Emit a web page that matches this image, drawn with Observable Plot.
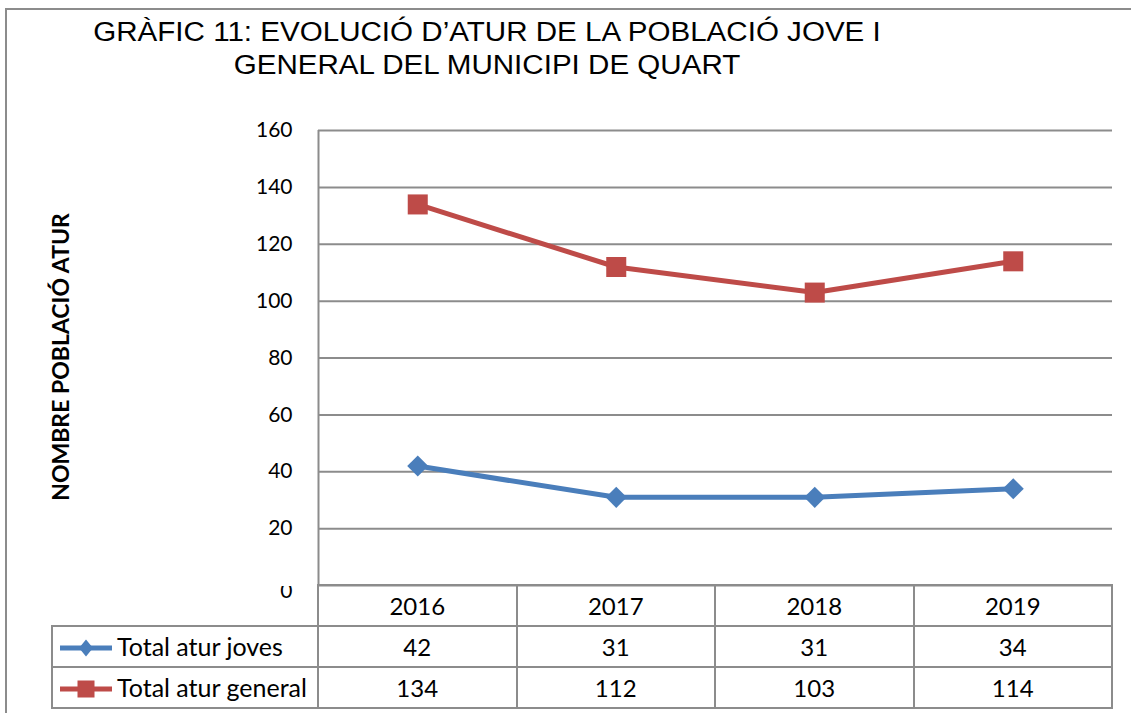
<!DOCTYPE html>
<html>
<head>
<meta charset="utf-8">
<script src="https://cdn.jsdelivr.net/npm/d3@7"></script>
<script src="https://cdn.jsdelivr.net/npm/@observablehq/plot@0.6"></script>
<style>
  html, body { margin: 0; padding: 0; background: #fff; }
  #wrap { position: relative; width: 1131px; height: 713px; overflow: hidden; background: #fff; }
  #frame { position: absolute; left: 5px; top: 8px; width: 1200px; height: 800px;
           border-left: 2px solid #8c8c8c; border-top: 2px solid #8c8c8c; }
  #title { position: absolute; left: 487px; top: 16px; text-align: center;
           transform-origin: 0 0;
           font-family: "Liberation Sans", Arial, sans-serif; font-size: 27px; line-height: 33px; color: #000; white-space: nowrap; }
  #ylabel { position: absolute; left: 60px; top: 357px; transform: translate(-50%, -50%) rotate(-90deg);
            font-family: Lato, sans-serif; font-weight: bold; font-size: 23px; white-space: nowrap; color: #000; }
  #chart { position: absolute; left: 0; top: 0; }
  #cover { position: absolute; left: 268px; top: 568px; width: 46px; height: 18px; background: #fff; }
  #tbl { position: absolute; left: 51px; top: 584px; border-collapse: collapse; table-layout: fixed;
         font-family: Lato, sans-serif; font-size: 24px; color: #000; }
  #tbl td { border: 2px solid #8c8c8c; padding: 0; text-align: center; vertical-align: middle; height: 39px; line-height: 39px; }
  #tbl td.blank { border-top: none; border-left: none; }
  #tbl td.leg { text-align: left; white-space: nowrap; font-size: 25px; overflow: hidden; }
  #tbl td.leg svg { vertical-align: middle; margin-left: 7px; margin-right: 5px; position: relative; top: -2px; }
</style>
</head>
<body>
<div id="wrap">
  <div id="frame"></div>
  <div id="title"></div>
  <div id="ylabel"></div>
  <div id="chart"></div>
  <div id="cover"></div>
  <table id="tbl"></table>
</div>
<script>
// ---- data ----
const titleLines = ["GRÀFIC 11: EVOLUCIÓ D’ATUR DE LA POBLACIÓ JOVE I", "GENERAL DEL MUNICIPI DE QUART"];
const yLabel = "NOMBRE POBLACIÓ ATUR";
const years = [2016, 2017, 2018, 2019];
const seriesNames = ["Total atur joves", "Total atur general"];
const joves = [42, 31, 31, 34];
const general = [134, 112, 103, 114];
const yTicks = [0, 20, 40, 60, 80, 100, 120, 140, 160];

const blue = "#4a7ebb";
const red = "#be4b48";
const gridColor = "#8c8c8c";

const titleEl = document.getElementById("title");
titleEl.innerHTML = titleLines.join("<br>");
titleEl.style.transform = "scaleX(1.095) translateX(-50%)";
document.getElementById("ylabel").textContent = yLabel;

const rowsJ = years.map((y, i) => ({year: y, value: joves[i]}));
const rowsG = years.map((y, i) => ({year: y, value: general[i]}));

const chart = Plot.plot({
  width: 1131,
  height: 600,
  marginLeft: 318,
  marginRight: 19,
  marginTop: 130,
  marginBottom: 15,
  x: {type: "linear", domain: [years[0] - 0.5, years[years.length - 1] + 0.5], axis: null},
  y: {domain: [0, 160], axis: null},
  style: {fontFamily: "Lato, sans-serif", fontSize: "21px", color: "#000", background: "transparent", overflow: "visible"},
  marks: [
    Plot.gridY(yTicks, {stroke: gridColor, strokeWidth: 2, strokeOpacity: 1}),
    Plot.ruleX([years[0] - 0.5], {stroke: gridColor, strokeWidth: 2}),
    Plot.axisY(yTicks.slice(1), {tickSize: 0, tickPadding: 26, label: null, fontSize: 21}),
    Plot.axisY(yTicks.slice(0, 1), {tickSize: 0, tickPadding: 26, label: null, fontSize: 21, dy: 6}),
    Plot.line(rowsJ, {x: "year", y: "value", stroke: blue, strokeWidth: 5}),
    Plot.dot(rowsJ, {x: "year", y: "value", symbol: "diamond2", r: 9.5, fill: blue, stroke: null}),
    Plot.line(rowsG, {x: "year", y: "value", stroke: red, strokeWidth: 5}),
    Plot.dot(rowsG, {x: "year", y: "value", symbol: "square", r: 11.3, fill: red, stroke: null})
  ]
});
document.getElementById("chart").appendChild(chart);

// ---- data table ----
function icon(color, kind) {
  const shape = kind === "diamond"
    ? `<path d="M26,1.5 L33,10 L26,18.5 L19,10 Z" fill="${color}"/>`
    : `<rect x="17.5" y="1.5" width="17" height="17" fill="${color}"/>`;
  return `<svg width="52" height="20" viewBox="0 0 52 20"><line x1="0" x2="52" y1="10" y2="10" stroke="${color}" stroke-width="5"/>${shape}</svg>`;
}
const tbl = document.getElementById("tbl");
let html = `<colgroup><col style="width:266px">${years.map(() => '<col style="width:198.5px">').join("")}</colgroup>`;
html += `<tr><td class="blank"></td>${years.map(y => `<td>${y}</td>`).join("")}</tr>`;
html += `<tr><td class="leg">${icon(blue, "diamond")}${seriesNames[0]}</td>${joves.map(v => `<td>${v}</td>`).join("")}</tr>`;
html += `<tr><td class="leg">${icon(red, "square")}${seriesNames[1]}</td>${general.map(v => `<td>${v}</td>`).join("")}</tr>`;
tbl.innerHTML = html;
tbl.style.width = (266 + 198.5 * years.length) + "px";
</script>
</body>
</html>
